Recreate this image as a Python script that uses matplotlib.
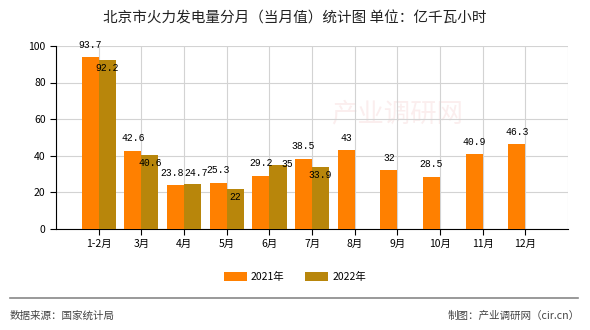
import matplotlib.pyplot as plt
import numpy as np

plt.rcParams['font.family'] = ['Noto Sans CJK SC', 'DejaVu Sans']

# data
months = ['1-2月', '3月', '4月', '5月', '6月', '7月', '8月', '9月', '10月', '11月', '12月']
v2021 = [93.7, 42.6, 23.8, 25.3, 29.2, 38.5, 43, 32, 28.5, 40.9, 46.3]
v2022 = [92.2, 40.6, 24.7, 22, 35, 33.9]
lbl2021 = ['93.7', '42.6', '23.8', '25.3', '29.2', '38.5', '43', '32', '28.5', '40.9', '46.3']
lbl2022 = ['92.2', '40.6', '24.7', '22', '35', '33.9']

c21 = '#FF8000'
c22 = '#B8860B'

fig = plt.figure(figsize=(5.9, 3.3), dpi=100)
ax = fig.add_axes([0.095, 0.306, 0.868, 0.555])

x = np.arange(1, len(months) + 1)
w = 0.4
ax.bar(x - w / 2, v2021, w, color=c21, label='2021年', zorder=3)
x2 = x[:len(v2022)]
ax.bar(x2 + w / 2, v2022, w, color=c22, label='2022年', zorder=3)

# value labels, placement as drawn in the original (points)
orange_off = [(0, 9)] * len(v2021)
orange_off[2] = (-2.5, 9)
for xi, v, s, (dx, dy) in zip(x, v2021, lbl2021, orange_off):
    ax.annotate(s, (xi - w / 2, v), xytext=(dx, dy), textcoords='offset points',
                ha='center', va='center', fontsize=7, family='Liberation Mono', zorder=4)
gold_off = [(0, -6), (0, -6), (2.5, 8), (0, -6), (7, 1), (0, -6)]
for xi, v, s, (dx, dy) in zip(x2, v2022, lbl2022, gold_off):
    ax.annotate(s, (xi + w / 2, v), xytext=(dx, dy), textcoords='offset points',
                ha='center', va='center', fontsize=7, family='Liberation Mono', zorder=4)

ax.set_xlim(0, 12)
ax.set_ylim(0, 100)
ax.set_yticks([0, 20, 40, 60, 80, 100])
ax.set_xticks(x)
ax.set_xticklabels(months)
ax.set_xticks(np.arange(0, 13), minor=True)
ax.tick_params(axis='both', labelsize=7.5, length=4, color='black')
ax.tick_params(axis='x', which='minor', length=0)
ax.grid(True, which='major', axis='y', color='#d3d3d3', lw=0.8, zorder=0)
ax.grid(True, which='major', axis='x', color='#d3d3d3', lw=0.8, zorder=0)
ax.grid(True, which='minor', axis='x', color='#d3d3d3', lw=0.8, zorder=0)
for s in ['top', 'right']:
    ax.spines[s].set_visible(False)
ax.spines['left'].set_color('black')
ax.spines['bottom'].set_color('black')

# watermark
ax.text(8.0, 63, '产业调研网', fontsize=19, color='#fbeeee', ha='center', va='center', zorder=1)

fig.text(0.5, 0.945, '北京市火力发电量分月（当月值）统计图 单位：亿千瓦小时',
         ha='center', va='center', fontsize=10.5, color='#222222')

fig.legend(loc='center', bbox_to_anchor=(0.5, 0.16), ncol=2, frameon=False,
           fontsize=7.5, handlelength=2.2, handleheight=0.9, columnspacing=2.0,
           handletextpad=0.4)

fig.add_artist(plt.Line2D([0.017, 0.98], [0.097, 0.097], color='#888888', lw=1.2))
fig.text(0.017, 0.042, '数据来源：国家统计局', ha='left', va='center', fontsize=7.6, color='#444444')
fig.text(0.982, 0.042, '制图：产业调研网（cir.cn）', ha='right', va='center', fontsize=7.6, color='#444444')

fig.savefig('out.png', dpi=100)
